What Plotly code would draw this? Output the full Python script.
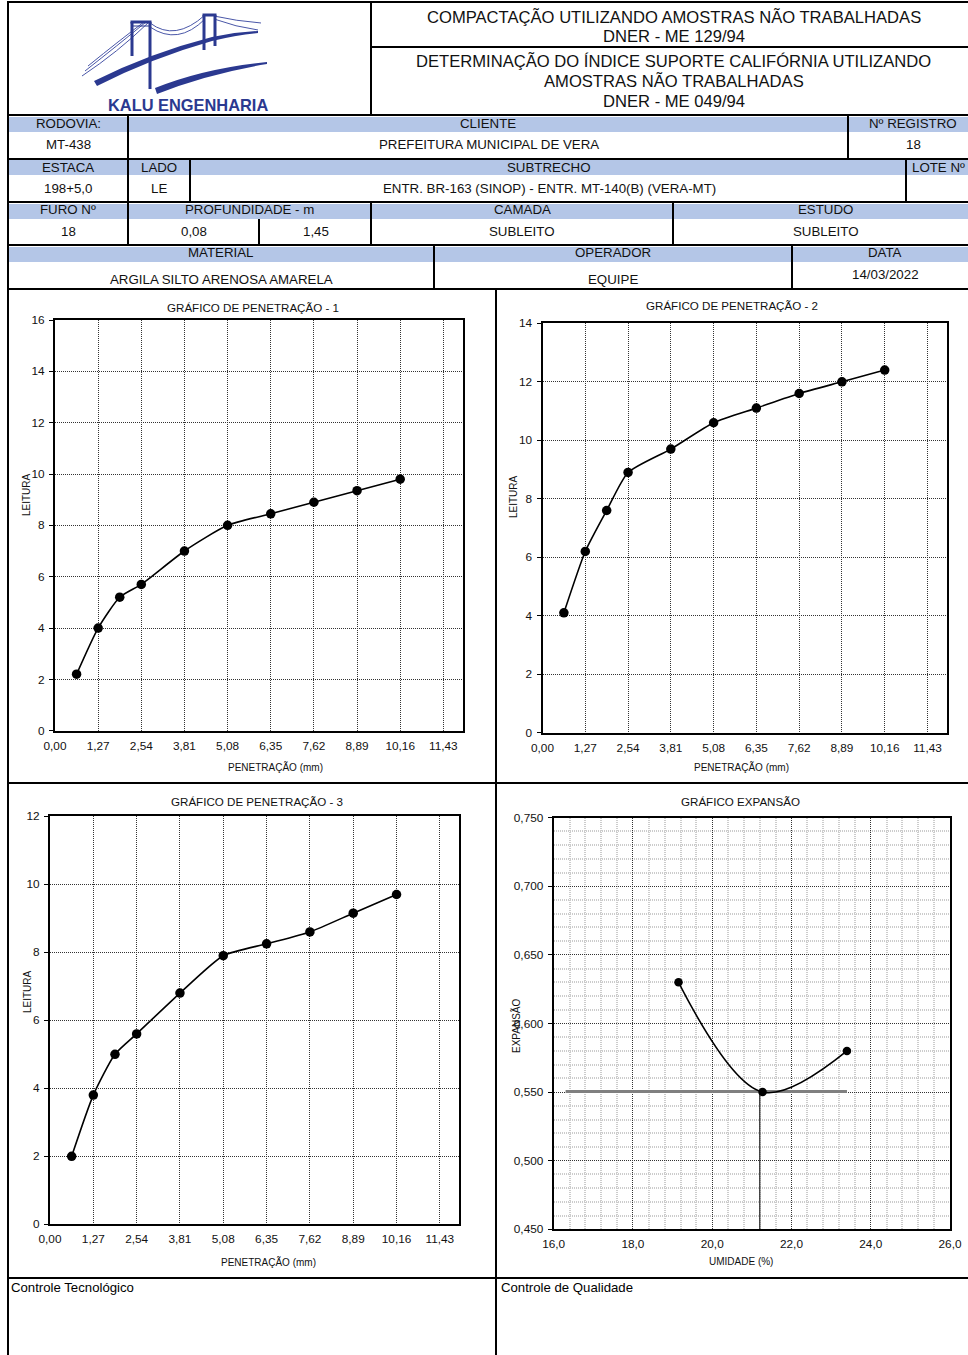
import plotly.graph_objects as go

W, H = 968, 1355
FONT = "Liberation Sans, Arial, sans-serif"
NAVY = "#2B3990"
BAND = "#B4C6E7"

# ---------------- data ----------------
pen_x = [0.635, 1.27, 1.905, 2.54, 3.81, 5.08, 6.35, 7.62, 8.89, 10.16]
leitura_1 = [2.2, 4.0, 5.2, 5.7, 7.0, 8.0, 8.45, 8.9, 9.35, 9.8]
leitura_2 = [4.1, 6.2, 7.6, 8.9, 9.7, 10.6, 11.1, 11.6, 12.0, 12.4]
leitura_3 = [2.0, 3.8, 5.0, 5.6, 6.8, 7.9, 8.25, 8.6, 9.15, 9.7]
umidade = [19.15, 21.27, 23.4]
expansao = [0.630, 0.550, 0.580]
umidade_otima = 21.2
expansao_ref = 0.5505
ref_umidade_range = [16.3, 23.4]
pen_ticks = [0.00, 1.27, 2.54, 3.81, 5.08, 6.35, 7.62, 8.89, 10.16, 11.43]

header_lines = ["COMPACTAÇÃO UTILIZANDO AMOSTRAS NÃO TRABALHADAS", "DNER - ME 129/94",
                "DETERMINAÇÃO DO ÍNDICE SUPORTE CALIFÓRNIA UTILIZANDO",
                "AMOSTRAS NÃO TRABALHADAS", "DNER - ME 049/94"]
row1_labels = ["RODOVIA:", "CLIENTE", "Nº REGISTRO"]
row1_values = ["MT-438", "PREFEITURA MUNICIPAL DE VERA", "18"]
row2_labels = ["ESTACA", "LADO", "SUBTRECHO", "LOTE Nº"]
row2_values = ["198+5,0", "LE", "ENTR. BR-163 (SINOP) - ENTR. MT-140(B) (VERA-MT)", ""]
row3_labels = ["FURO Nº", "PROFUNDIDADE - m", "CAMADA", "ESTUDO"]
row3_values = ["18", "0,08", "1,45", "SUBLEITO", "SUBLEITO"]
row4_labels = ["MATERIAL", "OPERADOR", "DATA"]
row4_values = ["ARGILA SILTO ARENOSA AMARELA", "EQUIPE", "14/03/2022"]


def px(x):
    return x / W


def py(y):
    return 1 - y / H


shapes = []
annotations = []


def hline(x0, x1, y, w=2, color="black"):
    shapes.append(dict(type="line", xref="paper", yref="paper", x0=px(x0), x1=px(x1),
                       y0=py(y), y1=py(y), line=dict(color=color, width=w), layer="above"))


def vline(x, y0, y1, w=2, color="black"):
    shapes.append(dict(type="line", xref="paper", yref="paper", x0=px(x), x1=px(x),
                       y0=py(y0), y1=py(y1), line=dict(color=color, width=w), layer="above"))


def band(x0, y0, x1, y1, color):
    shapes.append(dict(type="rect", xref="paper", yref="paper", x0=px(x0), x1=px(x1),
                       y0=py(y1), y1=py(y0), fillcolor=color, line=dict(width=0), layer="below"))


def text(x, y, s, size=13.3, anchor="center", color="#111111", angle=0):
    annotations.append(dict(x=px(x), y=py(y), xref="paper", yref="paper", text=s,
                            showarrow=False, xanchor=anchor, yanchor="middle",
                            textangle=angle, borderpad=0,
                            font=dict(family=FONT, size=size, color=color)))


def path(cmds):
    out = []
    for c in cmds:
        if c[0] == "Z":
            out.append("Z")
            continue
        nums = c[1:]
        pts = [f"{px(nums[i]):.5f},{py(nums[i + 1]):.5f}" for i in range(0, len(nums), 2)]
        out.append(c[0] + " " + " ".join(pts))
    return " ".join(out)


def pshape(cmds, fill=None, lw=0, lc=NAVY):
    d = dict(type="path", xref="paper", yref="paper", path=path(cmds), layer="above",
             line=dict(width=lw, color=lc))
    if fill:
        d["fillcolor"] = fill
    shapes.append(d)


# ---------------- logo ----------------
for c in [
    [("M", 82, 76), ("Q", 118, 52, 148, 23)],
    [("M", 85, 71), ("Q", 118, 45, 146, 22)],
    [("M", 88, 66), ("Q", 120, 40, 144, 22)],
    [("M", 150, 23), ("Q", 175, 42, 205, 15)],
    [("M", 150, 27), ("Q", 178, 46, 205, 19)],
    [("M", 214, 16), ("Q", 236, 21, 261, 23)],
    [("M", 214, 19), ("Q", 236, 27, 258, 30)],
]:
    pshape(c, lw=1, lc="#4A57A8")
pshape([("M", 94, 81), ("Q", 150, 53, 212, 37), ("Q", 235, 32, 258, 31), ("L", 258, 33),
        ("Q", 236, 35, 212, 41), ("Q", 152, 58, 97, 86), ("Z",)], fill=NAVY)
pshape([("M", 155, 88), ("Q", 205, 68, 267, 62), ("L", 267, 64), ("Q", 207, 74, 157, 94),
        ("Z",)], fill=NAVY)
for (x0, y0, x1, y1, w) in [(132, 22, 132, 56, 3), (150, 22, 150, 89, 3), (130.5, 22, 151.5, 22, 3),
                            (132, 26, 150, 26, 1),
                            (204, 15, 204, 50, 3), (215, 15, 215, 46, 3), (202.5, 15, 216.5, 15, 3)]:
    shapes.append(dict(type="line", xref="paper", yref="paper", x0=px(x0), x1=px(x1),
                       y0=py(y0), y1=py(y1), line=dict(color=NAVY, width=w), layer="above"))
text(188, 105, "<b>KALU ENGENHARIA</b>", size=16.4, color=NAVY)

# ---------------- header texts ----------------
for s, y in zip(header_lines, [17, 37, 61, 81, 102]):
    text(673.5, y, s, size=16.6)

# ---------------- table ----------------
for (y0, y1) in [(117, 132), (160, 175), (204, 219), (247, 262)]:
    band(8, y0, 968, y1, BAND)

for s, x in zip(row1_labels, [68, 488, 913]):
    text(x, 124, s)
for s, x in zip(row1_values, [68, 489, 913]):
    text(x, 144, s)
for s, x in zip(row2_labels[:3], [68, 159, 548]):
    text(x, 167, s)
text(966, 167, row2_labels[3], anchor="right")
for s, x in zip(row2_values[:3], [68, 159, 549]):
    text(x, 188, s)
for s, x in zip(row3_labels, [68, 250, 522, 825]):
    text(x, 209, s)
for s, x in zip(row3_values, [68, 194, 316, 522, 826]):
    text(x, 231, s)
for s, x in zip(row4_labels, [221, 613, 885]):
    text(x, 252, s)
for s, x, y in zip(row4_values, [221, 613, 885], [279, 279, 274]):
    text(x, y, s)

hline(7, 968, 2)
vline(8, 1, 1355)
vline(371, 2, 115)
hline(371, 968, 47)
for y in [115, 159, 202, 245, 289]:
    hline(7, 968, y)
vline(128, 115, 245)
vline(848, 115, 159)
vline(190, 159, 202)
vline(906, 159, 202)
vline(259, 219, 245)
vline(371, 202, 245)
vline(673, 202, 245)
vline(434, 245, 289)
vline(792, 245, 289)
vline(496, 289, 1355)
hline(7, 968, 783)
hline(7, 968, 1278)

text(10, 1287, "Controle Tecnológico", size=13.2, anchor="left", color="#000")
text(500, 1287, "Controle de Qualidade", size=13.2, anchor="left", color="#000")

# ---------------- chart texts ----------------
text(253, 307, "GRÁFICO DE PENETRAÇÃO - 1", size=11.6)
text(732, 305, "GRÁFICO DE PENETRAÇÃO - 2", size=11.6)
text(257, 801, "GRÁFICO DE PENETRAÇÃO - 3", size=11.6)
text(740, 801, "GRÁFICO EXPANSÃO", size=11.6)
text(275, 767, "PENETRAÇÃO (mm)", size=10)
text(741, 767, "PENETRAÇÃO (mm)", size=10)
text(268, 1262, "PENETRAÇÃO (mm)", size=10)
text(741, 1261, "UMIDADE (%)", size=10)
text(27, 495, "LEITURA", size=10, angle=-90)
text(514, 497, "LEITURA", size=10, angle=-90)
text(27, 992, "LEITURA", size=10, angle=-90)
text(516, 1026, "EXPANSÃO", size=10, angle=-90)

# ---------------- axes ----------------
GRID = dict(showgrid=True, gridcolor="#333333", gridwidth=1, griddash="1px,1px",
            showline=True, linecolor="black", linewidth=2, mirror=True, zeroline=False,
            automargin=False,
            tickfont=dict(family=FONT, size=11.8, color="#111111"))


def xpen(x0, x1, anchor):
    return dict(domain=[px(x0), px(x1)], anchor=anchor, range=[0, 12.0], tickmode="array",
                tickvals=pen_ticks, tickformat=".2f", ticks="", ticklabelstandoff=3, **GRID)


def ypen(y_bot, y_top, anchor, ymax):
    return dict(domain=[py(y_bot), py(y_top)], anchor=anchor, range=[0, ymax], dtick=2,
                tick0=0, ticks="outside", ticklen=4, tickcolor="black", ticklabelstandoff=2,
                **GRID)


layout = dict(
    width=W, height=H, margin=dict(l=0, r=0, t=0, b=0, pad=0, autoexpand=False),
    paper_bgcolor="white", plot_bgcolor="white", separators=",.",
    showlegend=False, shapes=shapes, annotations=annotations,
    xaxis=xpen(55, 462.7, "y"), yaxis=ypen(730.7, 320, "x", 16),
    xaxis2=xpen(542.5, 946.7, "y2"), yaxis2=ypen(732.8, 323.3, "x2", 14),
    xaxis3=xpen(50, 459.3, "y3"), yaxis3=ypen(1224.3, 816.3, "x3", 12),
    xaxis4=dict(domain=[px(553.7), px(950)], anchor="y4", range=[16, 26], dtick=2, tick0=16,
                tickformat=".1f", ticks="", ticklabelstandoff=3,
                minor=dict(dtick=0.4, tick0=16, showgrid=True, gridcolor="#cccccc", gridwidth=1.6),
                **GRID),
    yaxis4=dict(domain=[py(1229.3), py(817.7)], anchor="x4", range=[0.45, 0.75], dtick=0.05,
                tick0=0.45, tickformat=".3f", ticks="outside", ticklen=4, tickcolor="black",
                ticklabelstandoff=2,
                minor=dict(dtick=0.01, tick0=0.45, showgrid=True, gridcolor="#cccccc", gridwidth=1.6),
                **GRID),
)

fig = go.Figure(layout=layout)

LINE = dict(color="black", width=1.6, shape="spline", smoothing=0.6)
MK = dict(size=9.5, color="black")
for ys, xa, ya in [(leitura_1, "x", "y"), (leitura_2, "x2", "y2"), (leitura_3, "x3", "y3")]:
    fig.add_trace(go.Scatter(x=pen_x, y=ys, mode="lines+markers", line=LINE, marker=MK,
                             xaxis=xa, yaxis=ya, cliponaxis=False, hoverinfo="skip"))

fig.add_trace(go.Scatter(x=ref_umidade_range, y=[expansao_ref, expansao_ref], mode="lines",
                         line=dict(color="#808080", width=3), xaxis="x4", yaxis="y4",
                         hoverinfo="skip"))
fig.add_trace(go.Scatter(x=[umidade_otima, umidade_otima], y=[0.45, expansao_ref], mode="lines",
                         line=dict(color="#222222", width=1.2), xaxis="x4", yaxis="y4",
                         hoverinfo="skip"))
fig.add_trace(go.Scatter(x=umidade, y=expansao, mode="lines+markers",
                         line=dict(color="black", width=1.6, shape="spline", smoothing=1.0),
                         marker=dict(size=8.5, color="black"), xaxis="x4", yaxis="y4",
                         cliponaxis=False, hoverinfo="skip"))

fig.write_html("out.html", config={"displayModeBar": False},
               post_script="document.body.style.margin='0';document.body.style.padding='0';"
                           "document.documentElement.style.overflow='hidden';")
